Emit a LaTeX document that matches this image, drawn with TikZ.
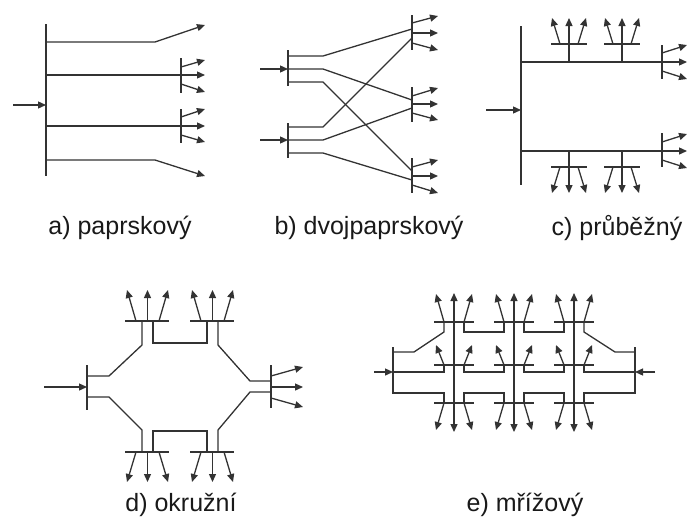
\documentclass[tikz,border=0pt]{standalone}
\usepackage{fontspec}
\setmainfont{Liberation Sans}
\usepackage{tikz}
\usetikzlibrary{arrows.meta}

\begin{document}
\begin{tikzpicture}[x=1pt, y=-1pt, line width=1.3pt, black!80,
  arr/.style={-{Triangle[length=8pt, width=7pt]}},
  arrs/.style={{Triangle[length=8pt, width=7pt]}-{Triangle[length=8pt, width=7pt]}},
  lbl/.style={font=\fontsize{25}{30}\selectfont, text=black!90, inner sep=0pt}]
\useasboundingbox (0,0) rectangle (690,523);
% a) paprskovy
\draw (46,24) -- (46,176);
\draw [arr] (13,105) -- (46,105);
\draw [arr] (46,42) -- (155,42) -- (205,25);
\draw [arr] (46,160) -- (155,160) -- (205,176);
\draw [arr] (46,75) -- (205,75);
\draw (181,58) -- (181,93);
\draw [arr] (181,67) -- (205,60);
\draw [arr] (181,84) -- (205,92);
\draw [arr] (46,126) -- (205,126);
\draw (181,109) -- (181,143);
\draw [arr] (181,117) -- (205,109);
\draw [arr] (181,135) -- (205,142);
% b) dvojpaprskovy
\draw (288,50) -- (288,86);
\draw [arr] (260,69) -- (288,69);
\draw (288,123) -- (288,158);
\draw [arr] (260,140) -- (288,140);
\draw (412,15) -- (412,50);
\draw (412,87) -- (412,122);
\draw (412,158) -- (412,193);
\draw (288,56) -- (323,56) -- (412,29);
\draw (288,69) -- (323,69) -- (412,100);
\draw (288,82) -- (323,82) -- (412,171);
\draw (288,127) -- (323,127) -- (412,38);
\draw (288,140) -- (323,140) -- (412,108);
\draw (288,153) -- (323,153) -- (412,180);
\draw [arr] (412,23) -- (438,16);
\draw [arr] (412,33) -- (438,33);
\draw [arr] (412,43) -- (438,50);
\draw [arr] (412,96) -- (438,88);
\draw [arr] (412,104) -- (438,104);
\draw [arr] (412,113) -- (438,120);
\draw [arr] (412,167) -- (438,160);
\draw [arr] (412,176) -- (438,176);
\draw [arr] (412,185) -- (438,193);
% c) prubezny
\draw (521,26) -- (521,185);
\draw [arr] (486,110) -- (521,110);
\draw [arr] (521,62) -- (687,62);
\draw (662,45) -- (662,79);
\draw [arr] (662,53) -- (687,45);
\draw [arr] (662,71) -- (687,79);
\draw [arr] (521,151) -- (687,151);
\draw (662,133) -- (662,167);
\draw [arr] (662,142) -- (687,134);
\draw [arr] (662,160) -- (687,168);
\draw [arr] (569,62) -- (569,18);
\draw (551,44) -- (587,44);
\draw [arr] (560,44) -- (552,18);
\draw [arr] (578,44) -- (586,18);
\draw [arr] (622,62) -- (622,18);
\draw (604,44) -- (640,44);
\draw [arr] (613,44) -- (605,18);
\draw [arr] (631,44) -- (639,18);
\draw [arr] (569,151) -- (569,193);
\draw (551,167) -- (587,167);
\draw [arr] (560,167) -- (552,193);
\draw [arr] (578,167) -- (586,193);
\draw [arr] (622,151) -- (622,193);
\draw (604,167) -- (640,167);
\draw [arr] (613,167) -- (605,193);
\draw [arr] (631,167) -- (639,193);
% d) okruzni
\draw (87,365) -- (87,410);
\draw [arr] (44,387) -- (87,387);
\draw (87,376) -- (109,376) -- (142,345) -- (142,321);
\draw (153,321) -- (153,343) -- (207,343) -- (207,321);
\draw (218,321) -- (218,345) -- (250,381) -- (271,381);
\draw (87,397) -- (109,397) -- (142,430) -- (142,452);
\draw (153,452) -- (153,431) -- (207,431) -- (207,452);
\draw (218,452) -- (218,430) -- (250,392) -- (271,392);
\draw (125,321) -- (169,321);
\draw (190,321) -- (234,321);
\draw (125,452) -- (169,452);
\draw (190,452) -- (234,452);
\draw [arr] (147.5,321) -- (147.5,290);
\draw [arr] (136,321) -- (127,290);
\draw [arr] (159,321) -- (168,290);
\draw [arr] (212.5,321) -- (212.5,290);
\draw [arr] (201,321) -- (192,290);
\draw [arr] (224,321) -- (233,290);
\draw [arr] (147.5,452) -- (147.5,482);
\draw [arr] (136,452) -- (127,482);
\draw [arr] (159,452) -- (168,482);
\draw [arr] (212.5,452) -- (212.5,482);
\draw [arr] (201,452) -- (192,482);
\draw [arr] (224,452) -- (233,482);
\draw (271,365) -- (271,408);
\draw [arr] (271,376) -- (303,367);
\draw [arr] (271,387) -- (303,387);
\draw [arr] (271,398) -- (303,407);
% e) mrizovy
\draw [arr] (374,372) -- (393,372);
\draw (393,347) -- (393,394);
\draw (393,352) -- (414,352) -- (444,332) -- (444,322);
\draw (393,372) -- (444,372) -- (444,365);
\draw (393,393) -- (444,393) -- (444,403);
\draw [arr] (655,372) -- (635,372);
\draw (635,347) -- (635,394);
\draw (635,352) -- (615,352) -- (584,332) -- (584,322);
\draw (635,372) -- (584,372) -- (584,365);
\draw (635,393) -- (584,393) -- (584,403);
\draw [arrs] (454,293) -- (454,432);
\draw [arrs] (514,293) -- (514,432);
\draw [arrs] (574,293) -- (574,432);
\draw (434,322) -- (474,322);
\draw (494,322) -- (534,322);
\draw (554,322) -- (594,322);
\draw (434,365) -- (474,365);
\draw (494,365) -- (534,365);
\draw (554,365) -- (594,365);
\draw (434,403) -- (474,403);
\draw (494,403) -- (534,403);
\draw (554,403) -- (594,403);
\draw (464,322) -- (464,332) -- (504,332) -- (504,322);
\draw (524,322) -- (524,332) -- (564,332) -- (564,322);
\draw (464,365) -- (464,372) -- (504,372) -- (504,365);
\draw (524,365) -- (524,372) -- (564,372) -- (564,365);
\draw (464,403) -- (464,393) -- (504,393) -- (504,403);
\draw (524,403) -- (524,393) -- (564,393) -- (564,403);
\draw [arr] (444,322) -- (436,294);
\draw [arr] (464,322) -- (472,294);
\draw [arr] (504,322) -- (496,294);
\draw [arr] (524,322) -- (532,294);
\draw [arr] (564,322) -- (556,294);
\draw [arr] (584,322) -- (592,294);
\draw [arr] (444,365) -- (436,345);
\draw [arr] (464,365) -- (472,345);
\draw [arr] (504,365) -- (496,345);
\draw [arr] (524,365) -- (532,345);
\draw [arr] (564,365) -- (556,345);
\draw [arr] (584,365) -- (592,345);
\draw [arr] (444,403) -- (436,430);
\draw [arr] (464,403) -- (472,430);
\draw [arr] (504,403) -- (496,430);
\draw [arr] (524,403) -- (532,430);
\draw [arr] (564,403) -- (556,430);
\draw [arr] (584,403) -- (592,430);
% popisky
\node [lbl] (la) at (120,228) {a) paprskový};
\node [lbl] (lb) at (369,228) {b) dvojpaprskový};
\node [lbl] (lc) at (617,228) {c) průběžný};
\node [lbl] (ld) at (181,505) {d) okružní};
\node [lbl] (le) at (525,505) {e) mřížový};
\end{tikzpicture}
\end{document}
